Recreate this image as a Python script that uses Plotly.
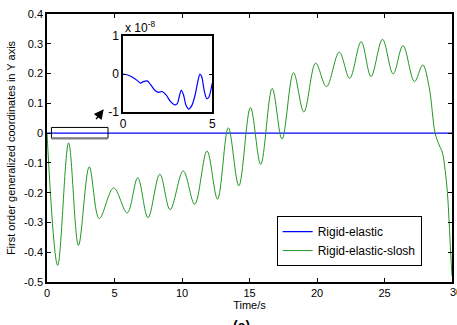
import plotly.graph_objects as go

# Main series
t_slosh = [0, 0.79, 1.6, 2.33, 3.13, 3.87, 4.94, 5.94, 6.72, 7.48, 8.36, 9.12,
           10.09, 10.94, 11.85, 12.63, 13.43, 14.21, 15.07, 15.83, 16.68, 17.41,
           18.26, 19.03, 19.9, 20.7, 21.65, 22.42, 23.27, 24.0, 24.85, 25.64,
           26.37, 27.22, 27.83, 28.3, 28.75, 29.05, 29.3, 29.49, 29.66, 29.9, 30]
y_slosh = [0, -0.444, -0.033, -0.377, -0.113, -0.287, -0.184, -0.268, -0.150, -0.284,
           -0.138, -0.257, -0.127, -0.239, -0.060, -0.222, 0.018, -0.177, 0.086,
           -0.105, 0.150, -0.020, 0.203, 0.071, 0.235, 0.156, 0.272, 0.184, 0.307,
           0.190, 0.315, 0.199, 0.294, 0.173, 0.229, 0.156, 0.0, -0.04, -0.067,
           -0.125, -0.20, -0.40, -0.48]

t_rigid = [0, 30]
y_rigid = [0, 0]

# Inset series (units of 1e-8)
t_inset = [0, 0.33, 0.70, 0.98, 1.13, 1.35, 1.54, 1.81, 2.0, 2.18, 2.41, 2.65, 2.89,
           3.04, 3.15, 3.26, 3.39, 3.52, 3.67, 3.85, 4.04, 4.19, 4.31, 4.41, 4.56,
           4.70, 4.81, 5.0]
y_inset = [0, -0.04, -0.135, -0.24, -0.2, -0.18, -0.28, -0.44, -0.48, -0.46, -0.55,
           -0.72, -0.81, -0.78, -0.59, -0.43, -0.55, -0.81, -0.92, -0.83, -0.55,
           -0.2, 0.0, -0.07, -0.46, -0.65, -0.61, -0.24]

x_ticks = [0, 5, 10, 15, 20, 25, 30]
y_ticks = [-0.5, -0.4, -0.3, -0.2, -0.1, 0, 0.1, 0.2, 0.3, 0.4]
y_ticklabels = ["-0.5", "-0.4", "-0.3", "-0.2", "-0.1", "0", "0.1", "0.2", "0.3", "0.4"]

BLUE = "#0000ff"
GREEN = "#249624"
FONT = "Liberation Sans, Arial, sans-serif"

fig = go.Figure()
fig.add_trace(go.Scatter(x=t_rigid, y=y_rigid, mode="lines", name="Rigid-elastic",
                         line=dict(color=BLUE, width=1.2)))
fig.add_trace(go.Scatter(x=t_slosh, y=y_slosh, mode="lines", name="Rigid-elastic-slosh",
                         line=dict(color=GREEN, width=1, shape="spline", smoothing=1.0)))
fig.add_trace(go.Scatter(x=t_inset, y=y_inset, mode="lines", showlegend=False,
                         xaxis="x2", yaxis="y2",
                         line=dict(color=BLUE, width=1.2, shape="spline", smoothing=0.8)))

axis_common = dict(showline=True, linecolor="black", mirror="ticks", ticks="inside",
                   tickcolor="black", showgrid=False, zeroline=False)

fig.update_layout(
    width=457, height=325,
    margin=dict(l=47, r=1, t=14, b=43),
    paper_bgcolor="white", plot_bgcolor="white",
    font=dict(family=FONT, size=11, color="black"),
    xaxis=dict(range=[0, 30], tickvals=x_ticks[:-1], ticklen=4, linewidth=1.5,
               title=dict(text="Time/s", standoff=2, font=dict(size=11)), **axis_common),
    yaxis=dict(range=[-0.5, 0.4], tickvals=y_ticks, ticktext=y_ticklabels, ticklen=4,
               linewidth=1.5,
               title=dict(text="First order generalized coordinates in Y axis", standoff=6,
                          font=dict(size=11)), **axis_common),
    xaxis2=dict(domain=[0.188, 0.408], anchor="y2", range=[0, 5], tickvals=[0, 5],
                ticklen=3, linewidth=1.5, tickfont=dict(size=12), **axis_common),
    yaxis2=dict(domain=[0.634, 0.918], anchor="x2", range=[-1, 1], tickvals=[-1, 0, 1],
                ticktext=["-1", "0", "1"], ticklen=3, linewidth=1.5,
                tickfont=dict(size=12), **axis_common),
    legend=dict(x=0.567, y=0.246, xanchor="left", yanchor="top", bgcolor="white",
                bordercolor="black", borderwidth=1, font=dict(size=12),
                tracegroupgap=0, itemwidth=30),
    showlegend=True,
)

# last x tick label, partly cut by the right edge as in the reference
fig.add_annotation(x=x_ticks[-1], y=0, xref="x", yref="paper", yanchor="top",
                   text=str(x_ticks[-1]), showarrow=False, yshift=-2, xshift=4,
                   font=dict(size=11))

# zoom box around the rigid-elastic line
fig.add_shape(type="rect", xref="x", yref="y", x0=0.33, x1=4.52, y0=-0.017, y1=0.019,
              line=dict(color="black", width=1))
fig.add_shape(type="line", xref="x", yref="y", x0=0.33, x1=4.52, y0=-0.018, y1=-0.018,
              line=dict(color="gray", width=2))

# arrow to inset
fig.add_annotation(x=4.2, y=0.08, ax=3.55, ay=0.042, xref="x", yref="y",
                   axref="x", ayref="y", text="", showarrow=True, arrowhead=2,
                   arrowsize=1.3, arrowwidth=1.5, arrowcolor="black")

# exponent label of inset
fig.add_annotation(x=0.188, y=0.918, xref="paper", yref="paper", xanchor="left",
                   yanchor="bottom", text="x 10<sup>-8</sup>", showarrow=False,
                   font=dict(size=12), yshift=-1)

# caption (partially cut off at bottom)
fig.add_annotation(x=0.48, y=-0.128, xref="paper", yref="paper", text="<b>(a)</b>",
                   showarrow=False, font=dict(size=14), yanchor="top")

fig.write_html("out.html")
